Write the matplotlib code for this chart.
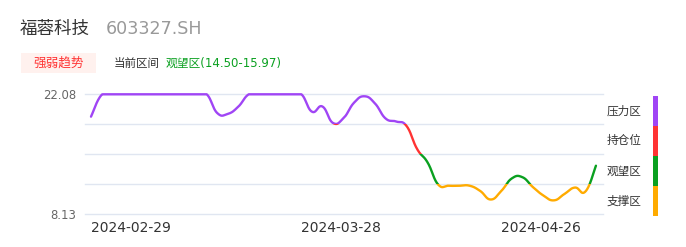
import numpy as np
import matplotlib
matplotlib.use("Agg")
import matplotlib.pyplot as plt
from matplotlib.patches import Rectangle

plt.rcParams['font.family'] = ['DejaVu Sans', 'Noto Sans CJK SC']

# trading days shown in the chart
dates = [
    "2024-02-29", "2024-03-01", "2024-03-04", "2024-03-05", "2024-03-06",
    "2024-03-07", "2024-03-08", "2024-03-11", "2024-03-12", "2024-03-13",
    "2024-03-14", "2024-03-15", "2024-03-18", "2024-03-19", "2024-03-20",
    "2024-03-21", "2024-03-22", "2024-03-25", "2024-03-26", "2024-03-27",
    "2024-03-28", "2024-03-29", "2024-04-01", "2024-04-02", "2024-04-03",
    "2024-04-08", "2024-04-09", "2024-04-10", "2024-04-11", "2024-04-12",
    "2024-04-15", "2024-04-16", "2024-04-17", "2024-04-18", "2024-04-19",
    "2024-04-22", "2024-04-23", "2024-04-24", "2024-04-25", "2024-04-26",
    "2024-04-29", "2024-04-30", "2024-05-06", "2024-05-07", "2024-05-08",
    "2024-05-09", "2024-05-10", "2024-05-13", "2024-05-14",
]
values = [
    19.48, 22.00, 22.08, 22.08, 22.08, 22.08, 22.08, 22.08, 22.08, 22.08,
    22.08, 22.08, 19.90, 19.80, 20.64, 22.08, 22.08, 22.08, 22.08, 22.08,
    22.08, 20.06, 20.66, 18.75, 19.30, 21.10, 21.85, 21.01, 19.27, 18.92,
    18.39, 15.72, 14.15, 11.59, 11.45, 11.45, 11.45, 10.84, 9.85, 10.84,
    12.30, 12.45, 11.30, 10.32, 9.75, 10.49, 11.24, 10.78, 13.78,
]
tick_dates = ["2024-02-29", "2024-03-28", "2024-04-26"]

y_min, y_max = 8.13, 22.08
zone_names = ["压力区", "持仓位", "观望区", "支撑区"]
zone_colors = ["#a045f5", "#ff3333", "#0aa020", "#ffab00"]

stock_name = "福蓉科技"
stock_code = "603327.SH"
current_zone = "观望区(14.50-15.97)"


def smooth_curve(x, y, s=0.45, n=24):
    pts = np.column_stack([x, y])
    out = []
    for i in range(len(pts) - 1):
        p0 = pts[max(i - 1, 0)]
        p1 = pts[i]
        p2 = pts[i + 1]
        p3 = pts[min(i + 2, len(pts) - 1)]
        c1 = p1 + s * (p2 - p0) / 2
        c2 = p2 - s * (p3 - p1) / 2
        t = np.linspace(0, 1, n)[:, None]
        seg = (1 - t) ** 3 * p1 + 3 * (1 - t) ** 2 * t * c1 + 3 * (1 - t) * t ** 2 * c2 + t ** 3 * p2
        out.append(seg if i == 0 else seg[1:])
    return np.vstack(out)


fig = plt.figure(figsize=(6.86, 2.47), dpi=100)
ax = fig.add_axes([85 / 686, 1 - 214.3 / 247, 518 / 686, 120 / 247])

x = np.arange(len(values))
curve = smooth_curve(x, np.array(values))
curve[:, 1] = np.minimum(curve[:, 1], y_max)

step = (y_max - y_min) / 4
levels = [y_min + k * step for k in range(5)]
for lv in levels:
    ax.axhline(lv, color="#e0e6f1", lw=1, zorder=0, clip_on=False)

# colour the line by the band it passes through
bands = [(levels[3], 100), (levels[2], levels[3]), (levels[1], levels[2]), (-100, levels[1])]
for (lo, hi), col in zip(bands, zone_colors):
    ln, = ax.plot(curve[:, 0], curve[:, 1], color=col, lw=1.7, solid_capstyle="round", zorder=3)
    clip = Rectangle((-10, lo), 100, hi - lo, transform=ax.transData)
    ln.set_clip_path(clip)

ax.set_xlim(-0.57, len(values) - 1 + 0.67)
ax.set_ylim(y_min, y_max)
for sp in ax.spines.values():
    sp.set_visible(False)

ax.set_yticks(levels)
ax.set_yticklabels(["8.13", "", "", "", "22.08"], color="#666666", fontsize=8.4)
ax.tick_params(axis="y", length=0, pad=6.5)

ax.set_xticks([dates.index(d) for d in tick_dates])
ax.set_xticklabels(tick_dates, color="#333333", fontsize=10, ha="left")
ax.tick_params(axis="x", length=0, pad=5)

# header
fig.text(20 / 686, 1 - 28.5 / 247, stock_name, fontsize=12.6, color="#333333", va="center")
fig.text(106 / 686, 1 - 28.5 / 247, stock_code, fontsize=12.6, color="#999999", va="center")

fig.patches.append(Rectangle((20.7 / 686, 1 - 73.3 / 247), 75.3 / 686, 20 / 247,
                             transform=fig.transFigure, facecolor="#fff1ee", edgecolor="none"))
fig.text(58.3 / 686, 1 - 63.3 / 247, "强弱趋势", fontsize=9.1, color="#ff3333", ha="center", va="center")
fig.text(114 / 686, 1 - 63.3 / 247, "当前区间", fontsize=8.3, color="#333333", va="center")
fig.text(165.5 / 686, 1 - 63.3 / 247, current_zone, fontsize=8.5, color="#0aa020", va="center")

# zone legend on the right
seg_h = (215.7 - 96) / 4
for k, (name, col) in enumerate(zip(zone_names, zone_colors)):
    top = 96 + k * seg_h
    fig.patches.append(Rectangle((653 / 686, 1 - (top + seg_h) / 247), 5 / 686, seg_h / 247,
                                 transform=fig.transFigure, facecolor=col, edgecolor="none"))
    fig.text(607 / 686, 1 - (top + seg_h / 2) / 247, name, fontsize=8.4, color="#333333", va="center")

fig.savefig("out.png", dpi=100)
